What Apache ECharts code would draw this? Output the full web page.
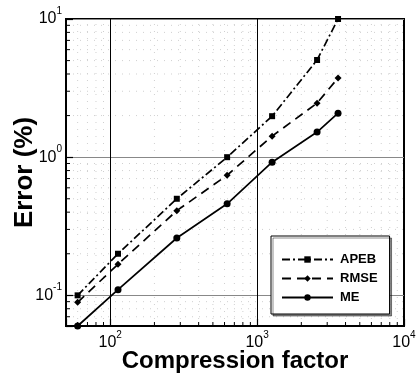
<!DOCTYPE html>
<html>
<head>
<meta charset="utf-8">
<script src="https://cdn.jsdelivr.net/npm/echarts@6/dist/echarts.min.js"></script>
<style>html,body{margin:0;padding:0;background:#fff}#c{width:419px;height:376px}</style>
</head>
<body>
<div id="c"></div>
<script>
const compression = [60, 113, 284, 625, 1265, 2560, 3556];
const apeb = [0.10, 0.20, 0.50, 1.00, 1.98, 5.05, 10.0];
const rmse = [0.089, 0.168, 0.41, 0.74, 1.42, 2.46, 3.74];
const me = [0.06, 0.11, 0.26, 0.46, 0.92, 1.52, 2.08];
const seriesNames = ['APEB', 'RMSE', 'ME'];
const xRange = [50, 10000];
const yRange = [0.06, 10];

const FONT = 'Liberation Sans, Arial, sans-serif';
function pow10Label(v) {
  const l = Math.log10(v), e = Math.round(l);
  if (Math.abs(l - e) > 1e-6) return '';
  return '{b|10}{s|' + e + '}';
}
const rich = {
  b: {fontSize: 16, fontFamily: FONT, color: '#000', lineHeight: 26},
  s: {fontSize: 10, fontFamily: FONT, color: '#000', lineHeight: 10, verticalAlign: 'top'}
};
function pairs(ys) { return compression.map((x, i) => [x, ys[i]]); }

const chart = echarts.init(document.getElementById('c'), null, {renderer: 'canvas'});
const option = {
  animation: false,
  backgroundColor: '#fff',
  grid: {left: 66, right: 15, top: 19, bottom: 50, containLabel: false, outerBoundsMode: 'none',
         show: true, borderColor: '#000', borderWidth: 2, backgroundColor: 'transparent'},
  xAxis: {
    type: 'log', logBase: 10, min: xRange[0], max: xRange[1],
    name: 'Compression factor', nameLocation: 'middle', nameGap: 23, nameMoveOverlap: false,
    nameTextStyle: {fontFamily: FONT, fontWeight: 'bold', fontSize: 24, color: '#000'},
    axisLine: {lineStyle: {color: '#000', width: 2}},
    axisTick: {inside: true, length: 7, lineStyle: {color: '#000', width: 1.2}},
    axisLabel: {formatter: pow10Label, rich: rich, margin: 4, showMinLabel: true, showMaxLabel: true},
    splitLine: {show: true, lineStyle: {color: '#000', width: 1}},
    minorTick: {show: false}
  },
  yAxis: {
    type: 'log', logBase: 10, min: yRange[0], max: yRange[1],
    name: 'Error (%)', nameLocation: 'middle', nameGap: 28, nameMoveOverlap: false,
    nameTextStyle: {fontFamily: FONT, fontWeight: 'bold', fontSize: 26, color: '#000'},
    axisLine: {lineStyle: {color: '#000', width: 2}},
    axisTick: {inside: true, length: 7, lineStyle: {color: '#000', width: 1.2}},
    axisLabel: {formatter: pow10Label, rich: rich, margin: 4},
    splitLine: {show: true, lineStyle: {color: '#888', width: 1}}
  },
  legend: {
    orient: 'vertical', left: 271, top: 236, width: 100,
    padding: [17, 12, 10, 10], itemGap: 6, itemWidth: 51, itemHeight: 8,
    borderColor: '#000', borderWidth: 1, backgroundColor: '#fff',
    shadowColor: 'rgba(0,0,0,0.45)', shadowOffsetX: 2, shadowOffsetY: 2, shadowBlur: 0,
    textStyle: {fontFamily: FONT, fontWeight: 'bold', fontSize: 13, color: '#000', padding: [0, 0, 0, 2]},
    data: seriesNames
  },
  series: [
    {name: seriesNames[0], type: 'line', data: pairs(apeb), clip: false,
     symbol: 'rect', symbolSize: 6,
     lineStyle: {color: '#000', width: 1.7, type: [8, 3, 2, 3]}, itemStyle: {color: '#000'}},
    {name: seriesNames[1], type: 'line', data: pairs(rmse), clip: false,
     symbol: 'diamond', symbolSize: 7,
     lineStyle: {color: '#000', width: 1.7, type: [9, 6]}, itemStyle: {color: '#000'}},
    {name: seriesNames[2], type: 'line', data: pairs(me), clip: false,
     symbol: 'circle', symbolSize: 7,
     lineStyle: {color: '#000', width: 1.7, type: 'solid'}, itemStyle: {color: '#000'}}
  ]
};
chart.setOption(option);

// minor ticks (and faint dotted minor grid) at 2..9 x each decade, positioned by the axes' own scales
const graphics = [];
const yBottom = chart.convertToPixel({yAxisIndex: 0}, yRange[0]);
const yTop = chart.convertToPixel({yAxisIndex: 0}, yRange[1]);
const xLeft = chart.convertToPixel({xAxisIndex: 0}, xRange[0]);
const xRight = chart.convertToPixel({xAxisIndex: 0}, xRange[1]);
for (let d = 10; d < xRange[1]; d *= 10) {
  for (let k = 2; k <= 9; k++) {
    const v = k * d;
    if (v <= xRange[0] || v >= xRange[1]) continue;
    const px = chart.convertToPixel({xAxisIndex: 0}, v);
    graphics.push({type: 'line', shape: {x1: px, y1: yBottom, x2: px, y2: yTop}, style: {stroke: '#d0d0d0', lineWidth: 1, lineDash: [1, 6]}, z: -1, silent: true});
    graphics.push({type: 'line', shape: {x1: px, y1: yBottom, x2: px, y2: yBottom - 4}, style: {stroke: '#000', lineWidth: 1}, z: 10});
  }
}
for (let d = 0.01; d < yRange[1]; d *= 10) {
  for (let k = 2; k <= 9; k++) {
    const v = k * d;
    if (v <= yRange[0] * 1.0001 || v >= yRange[1]) continue;
    const py = chart.convertToPixel({yAxisIndex: 0}, v);
    graphics.push({type: 'line', shape: {x1: xLeft, y1: py, x2: xRight, y2: py}, style: {stroke: '#d0d0d0', lineWidth: 1, lineDash: [1, 6]}, z: -1, silent: true});
    graphics.push({type: 'line', shape: {x1: xLeft, y1: py, x2: xLeft + 4, y2: py}, style: {stroke: '#000', lineWidth: 1}, z: 10});
  }
}
chart.setOption({graphic: graphics});
</script>
</body>
</html>
